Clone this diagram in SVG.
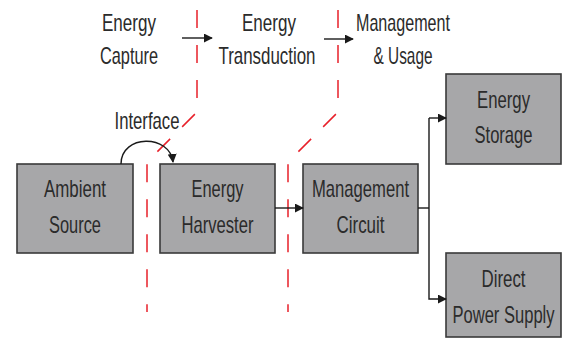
<svg xmlns="http://www.w3.org/2000/svg" width="569" height="338" viewBox="0 0 569 338">
<defs>
<marker id="ah" viewBox="0 0 10 10" refX="9" refY="5" markerWidth="9" markerHeight="9" markerUnits="userSpaceOnUse" orient="auto">
<path d="M0,0 L10,5 L0,10 z" fill="#1a1a1a"/>
</marker>
</defs>
<style>
.box{fill:#a7a7a9;stroke:#3a3a3a;stroke-width:1.6}
.t{font-family:"Liberation Sans",Arial,sans-serif;font-size:24px;fill:#2b2b2b;text-anchor:middle}
.c{fill:none;stroke:#1a1a1a;stroke-width:1.4}
.r{fill:none;stroke:#e8202a;stroke-width:1.5;stroke-dasharray:18 17}
</style>
<rect width="569" height="338" fill="#ffffff"/>
<g id="stage-labels">
<text class="t" x="129" y="31" textLength="54" lengthAdjust="spacingAndGlyphs">Energy</text>
<text class="t" x="129" y="64" textLength="58" lengthAdjust="spacingAndGlyphs">Capture</text>
<text class="t" x="269" y="31" textLength="54" lengthAdjust="spacingAndGlyphs">Energy</text>
<text class="t" x="267" y="64" textLength="97" lengthAdjust="spacingAndGlyphs">Transduction</text>
<text class="t" x="403" y="31" textLength="94" lengthAdjust="spacingAndGlyphs">Management</text>
<text class="t" x="403" y="64" textLength="59" lengthAdjust="spacingAndGlyphs">&amp; Usage</text>
<text class="t" x="147" y="129" textLength="65" lengthAdjust="spacingAndGlyphs">Interface</text>
</g>
<g id="boundaries">
<path class="r" d="M197,10 V112 L147,162 V312"/>
<path class="r" d="M338,10 V112 L288,162 V312"/>
</g>
<g id="node-ambient">
<rect class="box" x="17" y="164" width="116" height="89"/>
<text class="t" x="75" y="197" textLength="62" lengthAdjust="spacingAndGlyphs">Ambient</text>
<text class="t" x="75" y="233" textLength="52" lengthAdjust="spacingAndGlyphs">Source</text>
</g>
<g id="node-harvester">
<rect class="box" x="160" y="164" width="115" height="89"/>
<text class="t" x="217.5" y="197" textLength="52" lengthAdjust="spacingAndGlyphs">Energy</text>
<text class="t" x="217.5" y="233" textLength="72" lengthAdjust="spacingAndGlyphs">Harvester</text>
</g>
<g id="node-management">
<rect class="box" x="303" y="164" width="115" height="89"/>
<text class="t" x="360.5" y="197" textLength="97" lengthAdjust="spacingAndGlyphs">Management</text>
<text class="t" x="360.5" y="233" textLength="48" lengthAdjust="spacingAndGlyphs">Circuit</text>
</g>
<g id="node-storage">
<rect class="box" x="446" y="74" width="115" height="90"/>
<text class="t" x="503.5" y="108" textLength="53" lengthAdjust="spacingAndGlyphs">Energy</text>
<text class="t" x="503.5" y="143" textLength="58" lengthAdjust="spacingAndGlyphs">Storage</text>
</g>
<g id="node-direct">
<rect class="box" x="446" y="253" width="115" height="84"/>
<text class="t" x="503.5" y="287" textLength="44" lengthAdjust="spacingAndGlyphs">Direct</text>
<text class="t" transform="translate(503.5,323) scale(0.69,1)" x="0" y="0">Power Supply</text>
</g>
<g id="connectors">
<line class="c" x1="182" y1="38" x2="212" y2="38" marker-end="url(#ah)"/>
<line class="c" x1="324" y1="39" x2="353" y2="39" marker-end="url(#ah)"/>
<path class="c" d="M121,164 C121,134 170,134 173,162" marker-end="url(#ah)"/>
<line class="c" x1="275" y1="208" x2="303" y2="208" marker-end="url(#ah)"/>
<path class="c" d="M418,208 H429"/>
<path class="c" d="M429,118 V299 H446" marker-end="url(#ah)"/>
<line class="c" x1="429" y1="118" x2="446" y2="118" marker-end="url(#ah)"/>
</g>
</svg>
